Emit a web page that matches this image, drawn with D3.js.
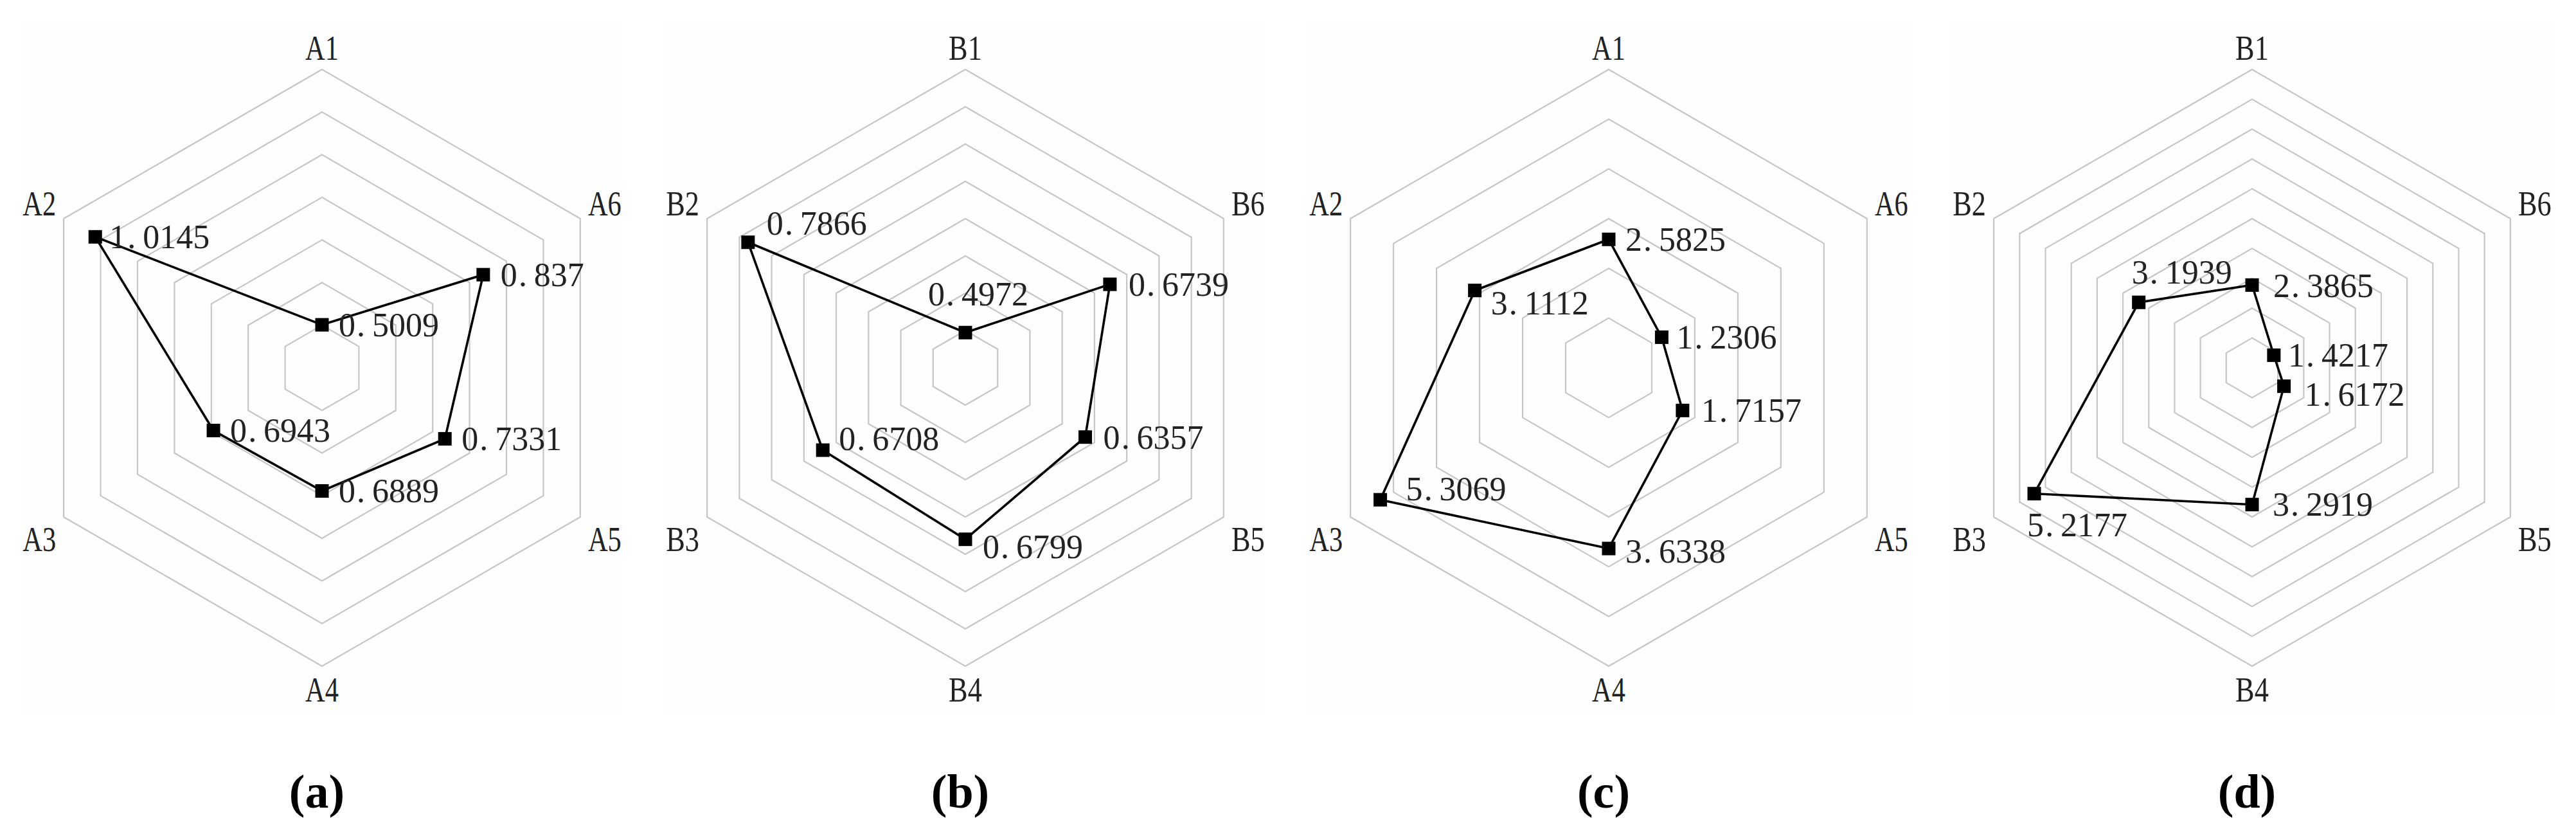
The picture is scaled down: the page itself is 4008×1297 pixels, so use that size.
<!DOCTYPE html>
<html>
<head>
<meta charset="utf-8">
<script src="https://cdn.jsdelivr.net/npm/d3@7"></script>
<style>
  html, body { margin: 0; padding: 0; background: #ffffff; }
  svg { display: block; }
</style>
</head>
<body>
<svg id="chart" width="4008" height="1297"></svg>
<script>
// ---------------- data ----------------
const panelCaptions = ["a", "b", "c", "d"];
const axesA = ["A1", "A2", "A3", "A4", "A5", "A6"];
const axesB = ["B1", "B2", "B3", "B4", "B5", "B6"];
const valuesA = [0.5009, 1.0145, 0.6943, 0.6889, 0.7331, 0.837];
const valuesB = [0.4972, 0.7866, 0.6708, 0.6799, 0.6357, 0.6739];
const valuesC = [2.5825, 3.1112, 5.3069, 3.6338, 1.7157, 1.2306];
const valuesD = [2.3865, 3.1939, 5.2177, 3.2919, 1.6172, 1.4217];
// radial axis: [min, step, number of rings]
const scaleA = [0.4, 0.1, 7];
const scaleB = [0.45, 0.05, 8];
const scaleC = [0, 1, 6];
const scaleD = [1, 0.5, 10];

// ---------------- layout / style ----------------
const labelNudge = [
  [[26, 0], [22, 0], [26, 0], [26, 0], [26, 0], [27, 0]],
  [[-58, -60], [29, -29], [25, -18], [27, 12], [28, 1], [29, 0]],
  [[26, 0], [25, 20], [40, -17], [26, 4], [29, 0], [23, 0]],
  [[33, 1], [-11, -47], [-11, 49], [32, 0], [32, 13], [22, 0]]
];
const panelDefs = [
  { axes: axesA, values: valuesA, scale: scaleA, cx: 501 },
  { axes: axesB, values: valuesB, scale: scaleB, cx: 1502 },
  { axes: axesA, values: valuesC, scale: scaleC, cx: 2503 },
  { axes: axesB, values: valuesD, scale: scaleD, cx: 3504 }
];
const CY = 572, R = 464;
const valueFont = 52, axisFont = 54;
const serif = "'Liberation Serif', 'DejaVu Serif', serif";

const svg = d3.select("#chart");

function ang(i) { return -Math.PI / 2 - i * Math.PI / 3; }

panelDefs.forEach((p, k) => {
  const [mn, step, n] = p.scale;
  const r = d3.scaleLinear().domain([mn, mn + step * n]).range([0, R]);
  const g = svg.append("g").attr("transform", `translate(${p.cx},${CY})`);

  g.append("rect")
    .attr("x", -468).attr("y", -539).attr("width", 935).attr("height", 1080)
    .attr("fill", "#fefefe");

  const pt = (v, i) => [r(v) * Math.cos(ang(i)), r(v) * Math.sin(ang(i))];
  const line = d3.line().curve(d3.curveLinearClosed);

  const rings = d3.range(1, n + 1).map(j => mn + j * step);
  g.selectAll("path.ring").data(rings).join("path")
    .attr("class", "ring")
    .attr("d", v => line(d3.range(6).map(i => pt(v, i))))
    .attr("fill", "none")
    .attr("stroke", "#c6c6c6")
    .attr("stroke-width", 2.2);

  // axis labels
  const outer = mn + step * n;
  const lblOff = [[0, -33], [-38, -23], [-38, 35], [0, 37], [38, 35], [38, -23]];
  g.selectAll("text.axis").data(p.axes).join("text")
    .attr("class", "axis")
    .attr("x", (d, i) => pt(outer, i)[0] + lblOff[i][0])
    .attr("y", (d, i) => pt(outer, i)[1] + lblOff[i][1] + axisFont * 0.33)
    .attr("text-anchor", "middle")
    .attr("textLength", axisFont * 0.96)
    .attr("lengthAdjust", "spacingAndGlyphs")
    .attr("font-family", serif)
    .attr("font-size", axisFont)
    .attr("fill", "#222")
    .text(d => d);

  // data polygon
  g.append("path")
    .attr("d", line(p.values.map((v, i) => pt(v, i))))
    .attr("fill", "none")
    .attr("stroke", "#000")
    .attr("stroke-width", 3.6)
    .attr("stroke-linejoin", "miter");

  const ms = 21;
  g.selectAll("rect.mk").data(p.values).join("rect")
    .attr("class", "mk")
    .attr("x", (v, i) => pt(v, i)[0] - ms / 2)
    .attr("y", (v, i) => pt(v, i)[1] - ms / 2)
    .attr("width", ms).attr("height", ms)
    .attr("fill", "#000");

  // value labels (half-width cell spacing after the decimal point)
  p.values.forEach((v, i) => {
    const [x, y] = pt(v, i);
    const [dx, dy] = labelNudge[k][i];
    const s = String(v);
    const dot = s.indexOf(".");
    const t = g.append("text")
      .attr("x", x + dx)
      .attr("y", y + dy + valueFont * 0.338)
      .attr("font-family", serif)
      .attr("font-size", valueFont)
      .attr("fill", "#222");
    t.append("tspan").text(s.slice(0, dot));
    t.append("tspan").attr("dx", valueFont * 0.04).text(".");
    t.append("tspan").attr("dx", valueFont * 0.21).text(s.slice(dot + 1));
  });

  // caption
  const cap = svg.append("text")
    .attr("x", p.cx - 8)
    .attr("y", 1256)
    .attr("text-anchor", "middle")
    .attr("font-family", serif)
    .attr("font-weight", "bold")
    .attr("font-size", 74)
    .attr("fill", "#000");
  cap.append("tspan").text("(");
  cap.append("tspan").text(panelCaptions[k]);
  cap.append("tspan").text(")");
});
</script>
</body>
</html>
